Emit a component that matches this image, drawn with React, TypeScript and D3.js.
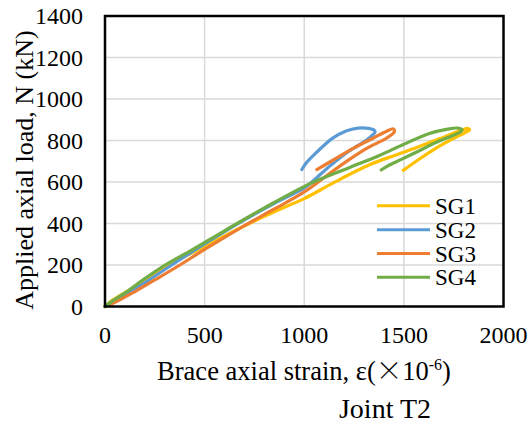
import React from "react";
import * as d3 from "d3";

// Strain gauge readings: [brace axial strain (×10⁻⁶), applied axial load (kN)]
const sg1: [number, number][] = [
  [0, 0], [25, 22], [70, 50], [130, 84], [200, 128], [300, 190], [450, 265], [600, 340],
  [750, 412], [900, 478], [1000, 520], [1150, 598], [1330, 684], [1450, 727], [1581, 772],
  [1700, 816], [1790, 850], [1822, 858], [1830, 851], [1815, 842], [1740, 805],
  [1660, 762], [1580, 712], [1497, 656],
];
const sg2: [number, number][] = [
  [0, 0], [50, 27], [150, 84], [335, 200], [500, 302], [700, 418], [850, 497], [1000, 572],
  [1044, 605], [1120, 670], [1208, 738], [1309, 800], [1345, 828], [1356, 842], [1345, 853],
  [1310, 860], [1270, 860], [1210, 846], [1141, 810], [1059, 740], [1010, 692], [988, 660],
];
const sg3: [number, number][] = [
  [0, 0], [50, 20], [150, 72], [250, 128], [376, 200], [500, 275], [700, 390], [850, 470],
  [1000, 552], [1180, 678], [1313, 762], [1414, 812], [1452, 842], [1447, 856], [1414, 845],
  [1347, 812], [1246, 762], [1146, 706], [1063, 660],
];
const sg4: [number, number][] = [
  [0, 0], [40, 28], [110, 72], [200, 135], [302, 200], [435, 272], [600, 365], [800, 475],
  [1029, 592], [1228, 670], [1377, 728], [1500, 782], [1628, 834], [1720, 855], [1770, 860],
  [1792, 852], [1786, 843], [1740, 822], [1660, 790], [1580, 752], [1490, 710], [1420, 678],
  [1386, 658],
];

const seriesNames = ["SG1", "SG2", "SG3", "SG4"];
const seriesData = [sg1, sg2, sg3, sg4];
const seriesColors = ["#FFC000", "#5B9BD5", "#ED7D31", "#70AD47"];

const xTicks = [0, 500, 1000, 1500, 2000];
const yTicks = [0, 200, 400, 600, 800, 1000, 1200, 1400];

const W = 532;
const H = 432;
const plot = { left: 105, right: 503.5, top: 16, bottom: 306.5 };
const serif = "Liberation Serif";

export default function App() {
  const x = d3.scaleLinear().domain([0, 2000]).range([plot.left, plot.right]);
  const y = d3.scaleLinear().domain([0, 1400]).range([plot.bottom, plot.top]);
  const line = d3
    .line<[number, number]>()
    .x((d) => x(d[0]))
    .y((d) => y(d[1]))
    .curve(d3.curveCatmullRom.alpha(0.5));

  const legendY = [205.7, 229.7, 253.5, 277.3];
  const txt = { fontFamily: serif, fill: "#000" } as React.CSSProperties;

  return (
    <svg
      width={W}
      height={H}
      viewBox={`0 0 ${W} ${H}`}
      style={{ position: "absolute", left: 0, top: 0, background: "#fff" }}
    >
      <rect x={0} y={0} width={W} height={H} fill="#fff" />

      {/* gridlines */}
      {yTicks.slice(1, -1).map((t) => (
        <line key={`gy${t}`} x1={plot.left} x2={plot.right} y1={y(t)} y2={y(t)} stroke="#d9d9d9" strokeWidth={1.5} />
      ))}
      {xTicks.slice(1, -1).map((t) => (
        <line key={`gx${t}`} x1={x(t)} x2={x(t)} y1={plot.top} y2={plot.bottom} stroke="#d9d9d9" strokeWidth={1.5} />
      ))}

      {/* curves */}
      {seriesData.map((s, i) => (
        <path
          key={seriesNames[i]}
          d={line(s) ?? ""}
          fill="none"
          stroke={seriesColors[i]}
          strokeWidth={3.2}
          strokeLinejoin="round"
          strokeLinecap="round"
        />
      ))}

      {/* frame */}
      <rect
        x={plot.left}
        y={plot.top}
        width={plot.right - plot.left}
        height={plot.bottom - plot.top}
        fill="none"
        stroke="#000"
        strokeWidth={2.5}
      />

      {/* tick labels */}
      {yTicks.map((t) => (
        <text key={`ty${t}`} x={83} y={y(t) + 8} textAnchor="end" style={{ ...txt, fontSize: 24 }}>
          {t}
        </text>
      ))}
      {xTicks.map((t) => (
        <text key={`tx${t}`} x={x(t)} y={343} textAnchor="middle" style={{ ...txt, fontSize: 24 }}>
          {t}
        </text>
      ))}

      {/* axis titles */}
      <text x={304} y={380} textAnchor="middle" style={{ ...txt, fontSize: 26.5 }}>
        Brace axial strain, ε(
        <tspan style={{ fontFamily: "Noto Sans CJK JP", fontWeight: 300 }}>×</tspan>
        10
        <tspan dy={-10} style={{ fontSize: 16 }}>-6</tspan>
        <tspan dy={10}>)</tspan>
      </text>
      <text
        transform={`translate(33, 170) rotate(-90)`}
        textAnchor="middle"
        style={{ ...txt, fontSize: 26 }}
      >
        Applied axial load, N (kN)
      </text>
      <text x={385} y={418} textAnchor="middle" style={{ ...txt, fontSize: 28 }}>
        Joint T2
      </text>

      {/* legend */}
      {seriesNames.map((n, i) => (
        <g key={`lg${n}`}>
          <line x1={377} x2={430} y1={legendY[i]} y2={legendY[i]} stroke={seriesColors[i]} strokeWidth={3} />
          <text x={435} y={legendY[i] + 8} style={{ ...txt, fontSize: 23 }}>
            {n}
          </text>
        </g>
      ))}
    </svg>
  );
}
